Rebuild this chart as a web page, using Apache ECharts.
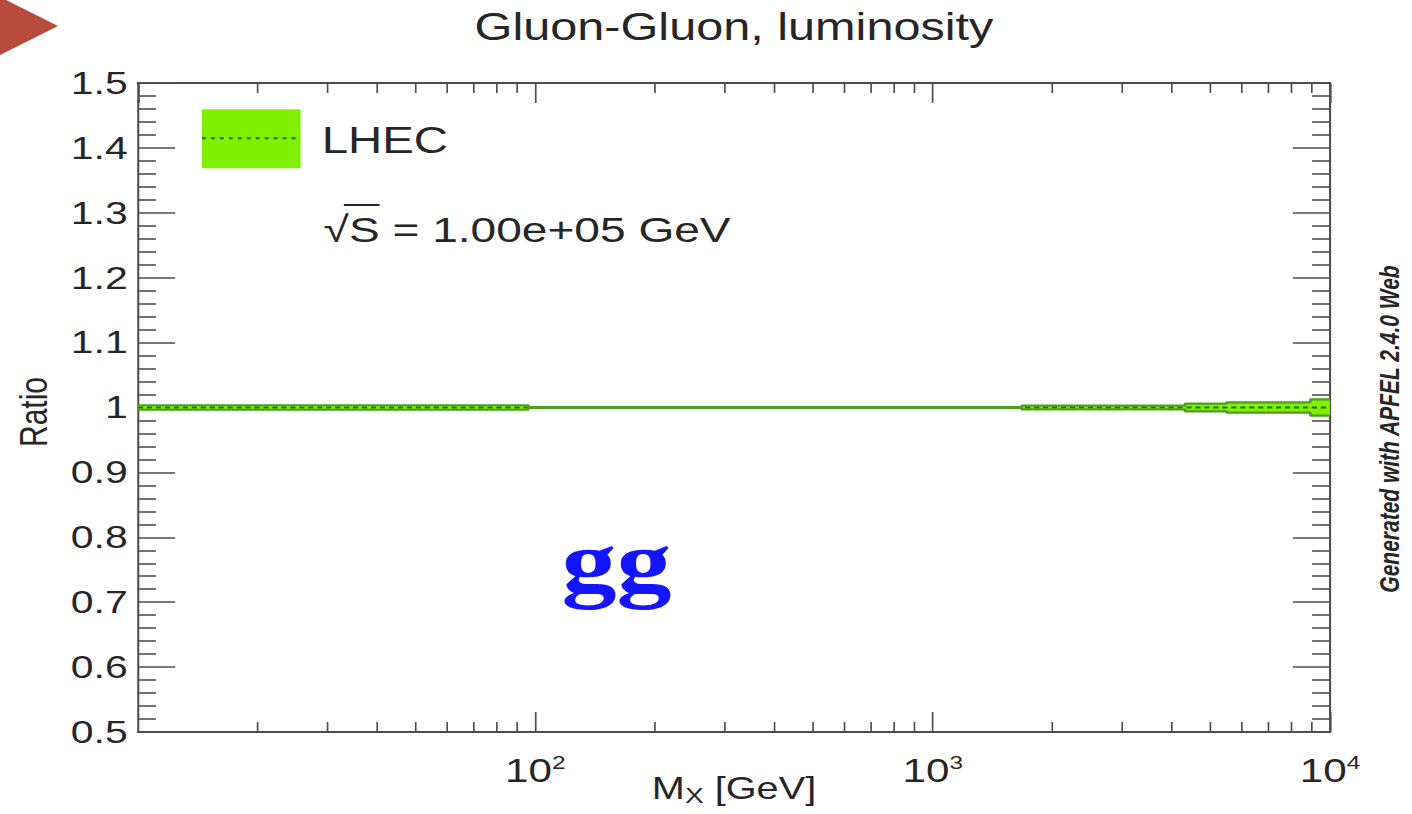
<!DOCTYPE html>
<html>
<head>
<meta charset="utf-8">
<title>Gluon-Gluon, luminosity</title>
<script src="https://cdn.jsdelivr.net/npm/echarts@6/dist/echarts.min.js"></script>
<style>
  html, body { margin: 0; padding: 0; background: #fff; overflow: hidden; }
  #frame { width: 1412px; height: 814px; overflow: hidden; position: relative; background: #fff; }
  #chart { width: 1103px; height: 814px; transform-origin: 0 0; }
</style>
</head>
<body>
<div id="frame"><div id="chart"></div></div>
<script>
// Gluon-gluon luminosity ratio for the LHEC PDF set at sqrt(S) = 100 TeV.
// The band is the PDF uncertainty; it changes in steps along M_X.
const massGeV      = [10, 96, 1675, 4315, 5495, 8920, 10000];
const ratioCentral = [1, 1, 1, 1, 1, 1, 1];
const ratioError   = [0.0035, 0.0005, 0.003, 0.006, 0.008, 0.0125, 0.0125];

// Axis ticks and labels
const xDecades = [10, 100, 1000, 10000];
const xDecadeExponents = ['', '2', '3', '4'];
const xMinorTicks = [20, 30, 40, 50, 60, 70, 80, 90,
                     200, 300, 400, 500, 600, 700, 800, 900,
                     2000, 3000, 4000, 5000, 6000, 7000, 8000, 9000];
const yTickLabels = ['0.5', '0.6', '0.7', '0.8', '0.9', '1', '1.1', '1.2', '1.3', '1.4', '1.5'];

const Y_MIN = 0.5, Y_MAX = 1.5;

// The plot is laid out on a narrower canvas and widened horizontally,
// giving the wide ROOT-style lettering.
const STRETCH = 1412 / 1103;
document.getElementById('chart').style.transform = 'scaleX(' + STRETCH + ')';
const sx = (x) => x / STRETCH;

const FONT = '"Liberation Sans", Arial, Helvetica, sans-serif';
const INK = '#262626';
const AXIS = '#4d4d4d';
const BAND_FILL = '#80f000';
const BAND_EDGE = '#4c9f1c';
const CENTRAL = '#246b05';

const lowerEdge = massGeV.map((m, i) => [m, ratioCentral[i] - ratioError[i]]);
const upperEdge = massGeV.map((m, i) => [m, ratioCentral[i] + ratioError[i]]);
const central = massGeV.map((m, i) => [m, ratioCentral[i]]);
// one filled block per mass interval: [from, to, low, high]
const bandBlocks = massGeV.slice(0, -1).map((m, i) => [
  m, massGeV[i + 1], ratioCentral[i] - ratioError[i], ratioCentral[i] + ratioError[i]
]);

// Width of the radical and the S, used to place the overline of sqrt(S)
const measure = document.createElement('canvas').getContext('2d');
measure.font = '36px ' + FONT;
const radicalWidth = measure.measureText('\u221A').width;
const sWidth = measure.measureText('S').width;
const sqrtLeft = sx(323.6);

const chart = echarts.init(document.getElementById('chart'), null, { renderer: 'svg' });

const axisCommon = {
  type: 'log',
  logBase: 10,
  min: xDecades[0],
  max: xDecades[xDecades.length - 1],
  splitLine: { show: false },
  axisLine: { show: true, onZero: false, lineStyle: { color: AXIS, width: 2 } },
  axisTick: { show: true, inside: true, length: 20, lineStyle: { color: AXIS, width: 1.3 } }
};

const yCommon = {
  type: 'value',
  min: Y_MIN,
  max: Y_MAX,
  interval: 0.1,
  splitLine: { show: false },
  axisLine: { show: true, onZero: false, lineStyle: { color: AXIS, width: 1.6 } },
  axisTick: { show: true, inside: true, length: 29, lineStyle: { color: AXIS, width: 1.6 } },
  minorTick: { show: true, splitNumber: 5, length: 14, lineStyle: { color: AXIS, width: 1.6 } }
};

const option = {
  animation: false,
  backgroundColor: '#fff',
  grid: {
    left: sx(138), right: 1103 - sx(1330), top: 83, bottom: 814 - 732,
    containLabel: false,
    outerBoundsMode: 'none'
  },
  xAxis: [
    Object.assign({}, axisCommon, {
      position: 'bottom',
      axisLabel: {
        show: true,
        margin: 21,
        showMinLabel: false,
        showMaxLabel: true,
        color: INK,
        fontFamily: FONT,
        formatter: (v) => {
          const i = xDecades.indexOf(Math.round(v));
          const e = i >= 0 ? xDecadeExponents[i] : '';
          return e ? '{b|10}{s|' + e + '}' : '';
        },
        rich: {
          b: { fontSize: 33, lineHeight: 36, fontFamily: FONT, color: INK },
          s: { fontSize: 19, lineHeight: 20, fontFamily: FONT, color: INK, verticalAlign: 'top' }
        }
      }
    }),
    Object.assign({}, axisCommon, {
      position: 'top',
      axisLabel: { show: false }
    })
  ],
  yAxis: [
    Object.assign({}, yCommon, {
      position: 'left',
      axisLabel: {
        show: true,
        margin: 8,
        fontSize: 32,
        fontFamily: FONT,
        color: INK,
        formatter: (v) => yTickLabels[Math.round((v - Y_MIN) * 10)]
      }
    }),
    Object.assign({}, yCommon, {
      position: 'right',
      axisLabel: { show: false }
    })
  ],
  series: [
    {
      // uncertainty band, filled interval by interval
      name: 'LHEC',
      type: 'custom',
      silent: true,
      data: bandBlocks,
      encode: { x: [0, 1], y: [2, 3] },
      z: 2,
      renderItem: (params, api) => {
        const a = api.coord([api.value(0), api.value(3)]);
        const b = api.coord([api.value(1), api.value(2)]);
        return {
          type: 'rect',
          shape: { x: a[0], y: a[1], width: b[0] - a[0], height: b[1] - a[1] },
          style: { fill: BAND_FILL }
        };
      }
    },
    {
      name: 'central',
      type: 'line',
      step: 'end',
      data: central,
      symbol: 'none',
      silent: true,
      lineStyle: { color: CENTRAL, width: 2, type: [4, 3] },
      z: 3
    },
    {
      name: 'upper',
      type: 'line',
      step: 'end',
      data: upperEdge,
      symbol: 'none',
      silent: true,
      lineStyle: { color: BAND_EDGE, width: 2.2 },
      z: 4
    },
    {
      name: 'lower',
      type: 'line',
      step: 'end',
      data: lowerEdge,
      symbol: 'none',
      silent: true,
      lineStyle: { color: BAND_EDGE, width: 2.2 },
      z: 4
    },
    {
      // minor ticks of the logarithmic x axis, bottom and top frame
      name: 'x-minor-ticks',
      type: 'custom',
      silent: true,
      clip: false,
      data: xMinorTicks.map((v) => [v, 1]),
      encode: { x: 0, y: 1 },
      z: 5,
      renderItem: (params, api) => {
        const v = api.value(0);
        const b = api.coord([v, Y_MIN]);
        const t = api.coord([v, Y_MAX]);
        const style = { stroke: AXIS, lineWidth: 1.3 };
        return {
          type: 'group',
          children: [
            { type: 'line', shape: { x1: b[0], y1: b[1], x2: b[0], y2: b[1] - 10 }, style },
            { type: 'line', shape: { x1: t[0], y1: t[1], x2: t[0], y2: t[1] + 10 }, style }
          ]
        };
      }
    }
  ],
  graphic: [
    {
      type: 'polygon',
      shape: { points: [[0, -3], [sx(58), 26], [0, 55]] },
      style: { fill: '#b84a3b' },
      silent: true
    },
    {
      type: 'text',
      x: sx(734), y: 26.7,
      style: { text: 'Gluon-Gluon, luminosity', fontSize: 38, fontFamily: FONT, fill: INK, align: 'center', verticalAlign: 'middle' }
    },
    {
      type: 'rect',
      shape: { x: sx(202), y: 109.3, width: sx(300.6) - sx(202), height: 59 },
      style: { fill: BAND_FILL },
      silent: true
    },
    {
      type: 'line',
      shape: { x1: sx(202), y1: 138.3, x2: sx(300.6), y2: 138.3 },
      style: { stroke: CENTRAL, lineWidth: 2, lineDash: [3, 4] },
      silent: true
    },
    {
      type: 'text',
      x: sx(321.7), y: 140,
      style: { text: 'LHEC', fontSize: 37, fontFamily: FONT, fill: INK, align: 'left', verticalAlign: 'middle' }
    },
    {
      type: 'text',
      x: sqrtLeft, y: 229.6,
      style: { text: '\u221AS = 1.00e+05 GeV', fontSize: 36, fontFamily: FONT, fill: INK, align: 'left', verticalAlign: 'middle' }
    },
    {
      type: 'line',
      shape: { x1: sqrtLeft + radicalWidth * 0.8, y1: 205, x2: sqrtLeft + radicalWidth + sWidth, y2: 205 },
      style: { stroke: INK, lineWidth: 2 },
      silent: true
    },
    {
      type: 'text',
      x: sx(616.5), y: 562,
      style: { text: 'gg', fontSize: 86, fontWeight: 'bold', fontFamily: '"Liberation Serif", "Times New Roman", serif', fill: '#1414ff', align: 'center', verticalAlign: 'middle' }
    },
    {
      type: 'text',
      x: sx(734), y: 789,
      style: {
        text: '{m|M}{sub|X}{m| [GeV]}',
        align: 'center', verticalAlign: 'middle',
        rich: {
          m: { fontSize: 31, lineHeight: 34, fontFamily: FONT, fill: INK },
          sub: { fontSize: 22, lineHeight: 18, fontFamily: FONT, fill: INK, verticalAlign: 'bottom' }
        }
      }
    },
    {
      type: 'text',
      x: sx(33.5), y: 412,
      rotation: Math.PI / 2,
      style: { text: 'Ratio', fontSize: 30, fontFamily: FONT, fill: INK, align: 'center', verticalAlign: 'middle' }
    },
    {
      type: 'text',
      x: sx(1390), y: 429,
      rotation: Math.PI / 2,
      style: { text: 'Generated with APFEL 2.4.0 Web', fontSize: 21, fontWeight: 'bold', fontStyle: 'italic', fontFamily: FONT, fill: INK, align: 'center', verticalAlign: 'middle' }
    }
  ]
};

chart.setOption(option);
</script>
</body>
</html>
